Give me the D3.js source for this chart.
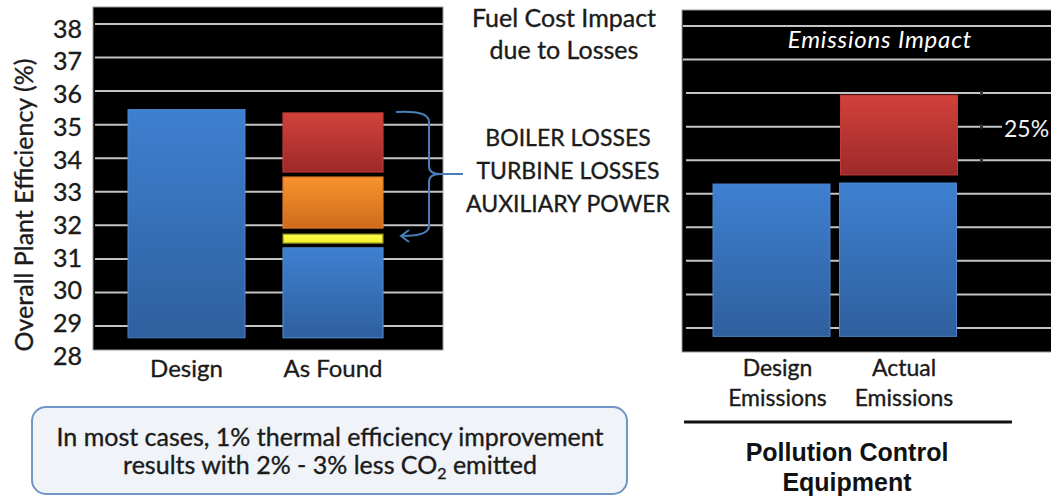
<!DOCTYPE html>
<html>
<head>
<meta charset="utf-8">
<script src="https://cdn.jsdelivr.net/npm/d3@7"></script>
<style>
  body { margin: 0; background: #fff; }
  svg { display: block; font-family: Lato, "Open Sans", sans-serif; }
  .dark { fill: #1b1b1b; stroke: #1b1b1b; stroke-width: 0.35px; }
</style>
</head>
<body>
<div id="chart"></div>
<script>
// efficiency chart (left)
const effCategories = ["Design", "As Found"];
const effTicks = [28, 29, 30, 31, 32, 33, 34, 35, 36, 37, 38];
const effBase = 28.65;
const designEfficiency = 35.45;
const lossNames = ["Net", "Auxiliary Power", "Turbine Losses", "Boiler Losses"];
const lossStart = [28.65, 31.47, 31.92, 33.59];
const lossEnd = [31.33, 31.74, 33.44, 35.35];

// emissions chart (right)
const emCategories = ["Design Emissions", "Actual Emissions"];
const emBase = 28.75;
const emBlue = [33.29, 33.32];
const emExtraStart = 33.56;
const emExtraEnd = 35.94;
const emExtraLabel = "25%";
const emMarkerLines = [36, 35, 34];

const width = 1051, height = 498;

const svg = d3.select("#chart")
    .append("svg")
    .attr("width", width)
    .attr("height", height);

const defs = svg.append("defs");
function grad(id, top, bottom) {
    const g = defs.append("linearGradient")
        .attr("id", id)
        .attr("x1", "0%").attr("y1", "0%")
        .attr("x2", "0%").attr("y2", "100%");
    g.append("stop").attr("offset", "0%").attr("stop-color", top);
    g.append("stop").attr("offset", "100%").attr("stop-color", bottom);
}
grad("g-blue", "#3e80d0", "#2f5f9e");
grad("g-red", "#d2413b", "#9c2a29");
grad("g-orange", "#f9942f", "#cf6a1d");
grad("g-yellow", "#ffff4a", "#f2f02a");
const segFill = ["url(#g-blue)", "url(#g-yellow)", "url(#g-orange)", "url(#g-red)"];
const segStroke = ["#4a86cc", "#8a8a20", "#e07a2a", "#c03a36"];

// ---------- left panel ----------
const yL = d3.scaleLinear().domain([28, 38]).range([359.6, 24]);
// tick labels sit on a slightly tighter spacing than the grid in the original
const yLabel = d3.scaleLinear().domain([28, 38]).range([356, 29]);
const xL = d3.scalePoint().domain(effCategories).range([186.5, 333]);
const barW = { "Design": 117, "As Found": 100 };

svg.append("rect")
    .attr("x", 93).attr("y", 7)
    .attr("width", 350).attr("height", 343)
    .attr("fill", "#000")
    .attr("stroke", "#9a9a9a").attr("stroke-width", 1);

svg.append("g")
    .selectAll("line")
    .data(effTicks.filter(t => t > 28))
    .join("line")
    .attr("x1", 95).attr("x2", 443)
    .attr("y1", d => yL(d)).attr("y2", d => yL(d))
    .attr("stroke", "#c4c4c4").attr("stroke-width", 2);

svg.append("g")
    .selectAll("text")
    .data(effTicks)
    .join("text")
    .attr("class", "dark")
    .attr("x", 82)
    .attr("y", d => yLabel(d))
    .attr("dy", "0.35em")
    .attr("text-anchor", "end")
    .attr("font-size", 25)
    .text(d => d);

svg.append("text")
    .attr("class", "dark")
    .attr("transform", `translate(33,${(60 + 350) / 2}) rotate(-90)`)
    .attr("text-anchor", "middle")
    .attr("font-size", 25)
    .text("Overall Plant Efficiency (%)");

// design bar
svg.append("rect")
    .attr("x", xL("Design") - barW["Design"] / 2)
    .attr("y", yL(designEfficiency))
    .attr("width", barW["Design"])
    .attr("height", yL(effBase) - yL(designEfficiency))
    .attr("fill", "url(#g-blue)")
    .attr("stroke", "#4a86cc").attr("stroke-width", 1);

// as found stack
svg.append("g")
    .selectAll("rect")
    .data(lossNames)
    .join("rect")
    .attr("x", xL("As Found") - barW["As Found"] / 2)
    .attr("y", (d, i) => yL(lossEnd[i]))
    .attr("width", barW["As Found"])
    .attr("height", (d, i) => yL(lossStart[i]) - yL(lossEnd[i]))
    .attr("fill", (d, i) => segFill[i])
    .attr("stroke", (d, i) => segStroke[i]).attr("stroke-width", 1.2);

svg.append("g")
    .selectAll("text")
    .data(effCategories)
    .join("text")
    .attr("class", "dark")
    .attr("x", d => xL(d))
    .attr("y", 377)
    .attr("text-anchor", "middle")
    .attr("font-size", 24)
    .text(d => d);

// brace + arrow
svg.append("path")
    .attr("d", "M396,112 Q429,110 429,122 L429,166 Q429,174 440,174 L463,174 M440,174 Q429,174 429,182 L429,226 Q429,236 402,236 M409,230 L401,236 L409,242")
    .attr("fill", "none")
    .attr("stroke", "#4a7ebb").attr("stroke-width", 2);

// middle texts
const mid = svg.append("g").attr("class", "dark").attr("text-anchor", "middle");
mid.append("text").attr("x", 564).attr("y", 27).attr("font-size", 25).text("Fuel Cost Impact");
mid.append("text").attr("x", 564).attr("y", 59).attr("font-size", 25).text("due to Losses");
["BOILER LOSSES", "TURBINE LOSSES", "AUXILIARY POWER"].forEach((t, i) => {
    mid.append("text").attr("x", 568).attr("y", 146 + i * 33).attr("font-size", 23).text(t);
});

// ---------- right panel ----------
const yR = d3.scaleLinear().domain([28, 38]).range([361.5, 26]);
const xR = d3.scalePoint().domain(emCategories).range([771.5, 898]);
const emW = 117;

svg.append("rect")
    .attr("x", 682).attr("y", 10)
    .attr("width", 370).attr("height", 342)
    .attr("fill", "#000")
    .attr("stroke", "#9a9a9a").attr("stroke-width", 1);

svg.append("g")
    .selectAll("line")
    .data(effTicks.filter(t => t > 28))
    .join("line")
    .attr("x1", d => d >= 37 ? 683 : 686).attr("x2", 1051)
    .attr("y1", d => yR(d)).attr("y2", d => yR(d))
    .attr("stroke", "#c4c4c4").attr("stroke-width", 2);

// small dark notches on the lines to the right of the red block
svg.append("g")
    .selectAll("rect")
    .data(emMarkerLines)
    .join("rect")
    .attr("x", 980).attr("y", d => yR(d) - 2)
    .attr("width", 3).attr("height", 4)
    .attr("fill", "#333");

svg.append("text")
    .attr("x", 880).attr("y", 48)
    .attr("text-anchor", "middle")
    .attr("font-size", 24)
    .attr("letter-spacing", 0.8)
    .attr("font-style", "italic")
    .attr("fill", "#fff")
    .text("Emissions Impact");

svg.append("g")
    .selectAll("rect")
    .data(emCategories)
    .join("rect")
    .attr("x", d => xR(d) - emW / 2)
    .attr("y", (d, i) => yR(emBlue[i]))
    .attr("width", emW)
    .attr("height", (d, i) => yR(emBase) - yR(emBlue[i]))
    .attr("fill", "url(#g-blue)")
    .attr("stroke", "#4a86cc").attr("stroke-width", 1);

svg.append("rect")
    .attr("x", xR("Actual Emissions") - emW / 2 + 1)
    .attr("y", yR(emExtraEnd))
    .attr("width", emW)
    .attr("height", yR(emExtraStart) - yR(emExtraEnd))
    .attr("fill", "url(#g-red)")
    .attr("stroke", "#c03a36").attr("stroke-width", 1);

svg.append("rect")
    .attr("x", 1002).attr("y", yR(35) - 11)
    .attr("width", 49).attr("height", 24)
    .attr("fill", "#000");
svg.append("text")
    .attr("x", 1004).attr("y", yR(35) + 2)
    .attr("dy", "0.35em")
    .attr("font-size", 23)
    .attr("fill", "#f2f2f2")
    .text(emExtraLabel);

svg.append("g")
    .selectAll("g")
    .data(emCategories)
    .join("g")
    .each(function (d) {
        const words = d.split(" ");
        d3.select(this).selectAll("text")
            .data(words)
            .join("text")
            .attr("class", "dark")
            .attr("x", xR(d) + 6)
            .attr("y", (w, i) => 376 + i * 30)
            .attr("text-anchor", "middle")
            .attr("font-size", 23)
            .text(w => w);
    });

svg.append("line")
    .attr("x1", 684).attr("x2", 1012)
    .attr("y1", 422).attr("y2", 422)
    .attr("stroke", "#111").attr("stroke-width", 3);

const pce = svg.append("g")
    .attr("text-anchor", "middle")
    .attr("font-family", "'Liberation Sans', Arial, sans-serif")
    .attr("font-weight", "bold")
    .attr("font-size", 25)
    .attr("fill", "#111");
pce.append("text").attr("x", 847).attr("y", 461).text("Pollution Control");
pce.append("text").attr("x", 847).attr("y", 491).text("Equipment");

// ---------- note box ----------
svg.append("rect")
    .attr("x", 32).attr("y", 407)
    .attr("width", 595).attr("height", 87)
    .attr("rx", 14)
    .attr("fill", "#f0f3f8")
    .attr("stroke", "#7196c6").attr("stroke-width", 2);

const note = svg.append("g").attr("class", "dark").attr("text-anchor", "middle").attr("font-size", 25);
note.append("text").attr("x", 330).attr("y", 446)
    .text("In most cases, 1% thermal efficiency improvement");
const n2 = note.append("text").attr("x", 330).attr("y", 474);
n2.append("tspan").text("results with 2% - 3% less CO");
n2.append("tspan").attr("font-size", 16).attr("dy", 5).text("2");
n2.append("tspan").attr("dy", -5).text(" emitted");
</script>
</body>
</html>
